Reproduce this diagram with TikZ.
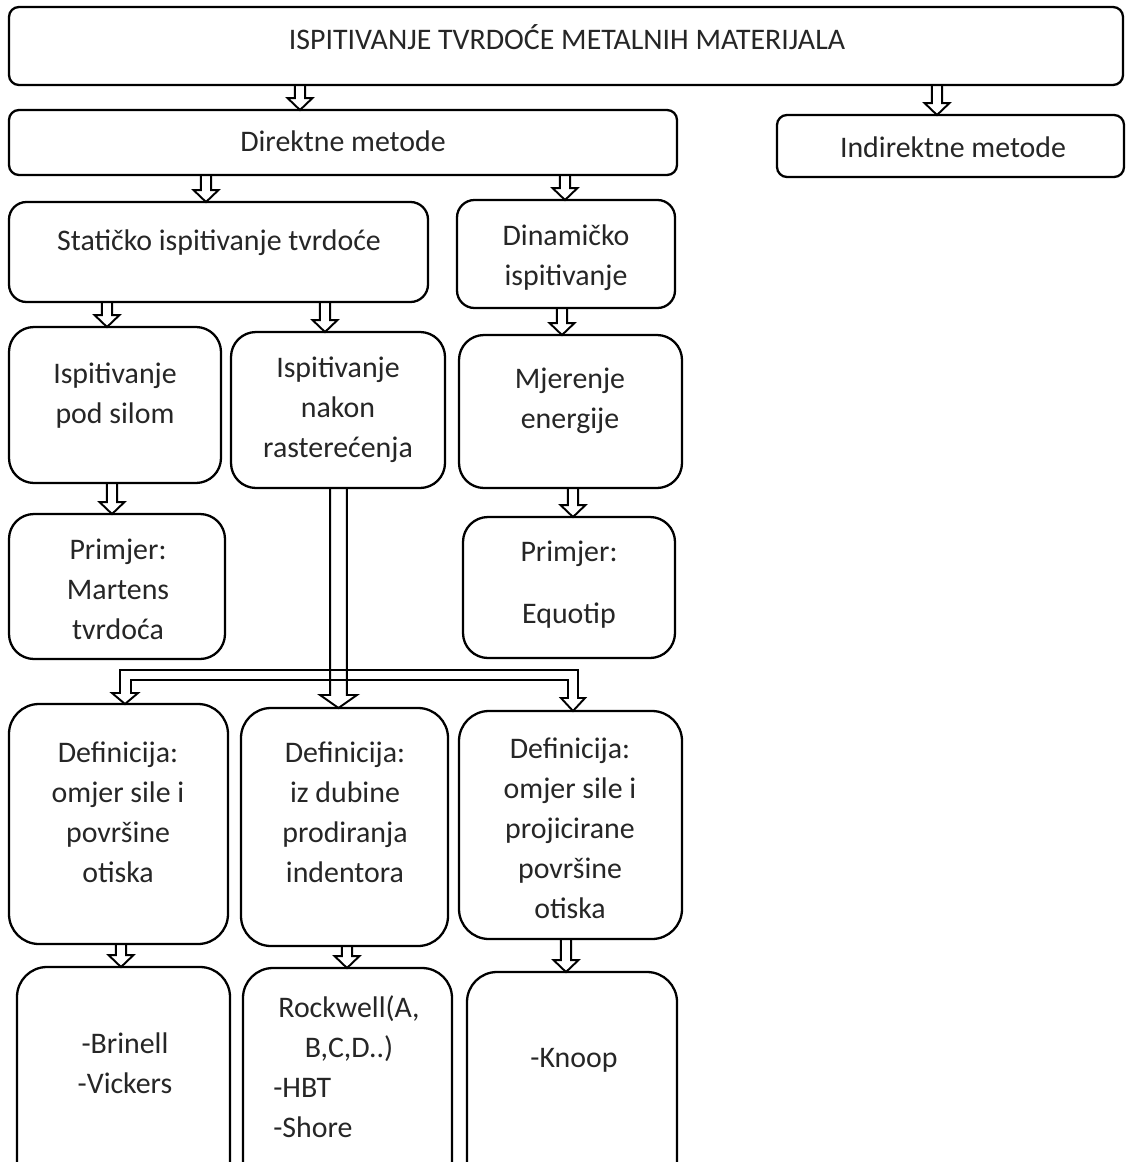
\documentclass[tikz,border=0pt]{standalone}
\usepackage{fontspec}
\setmainfont{Carlito}
\usetikzlibrary{calc,fit}
\definecolor{txt}{RGB}{38,38,38}
\tikzset{
  box/.style={draw=black, line width=1.3pt, inner sep=0pt, outer sep=0pt},
  lbl/.style={text=txt, inner sep=0pt, align=center, font=\fontsize{17}{22.7}\selectfont},
  arr/.style={draw=black, line width=1.1pt, line join=miter},
}
% hollow arrow: #1 = x position, #2 = source node, #3 = target node
\newcommand\harr[3]{%
  \draw[arr] let \p1=(#1,0), \p2=(#2.south), \p3=(#3.north) in
    (\x1-2.9pt,\y2) -- (\x1-2.9pt,\y3+6.8pt) -- (\x1-7.1pt,\y3+6.8pt) -- (\x1,\y3)
    -- (\x1+7.1pt,\y3+6.8pt) -- (\x1+2.9pt,\y3+6.8pt) -- (\x1+2.9pt,\y2);}
\begin{document}
\begin{tikzpicture}[x=0.02cm, y=-0.02cm]
\clip (0,0) rectangle (1125,1162);
\fill[white] (0,0) rectangle (1125,1162);

% boxes
\node[box, rounded corners=0.2cm, fit={(9,7) (1123,85)}] (top) {};
\node[box, rounded corners=0.2cm, fit={(9,110) (677,175)}] (dir) {};
\node[box, rounded corners=0.2cm, fit={(777,115) (1124,177)}] (ind) {};
\node[box, rounded corners=0.35cm, fit={(9,202) (428,302)}] (stat) {};
\node[box, rounded corners=0.35cm, fit={(457,200) (675,308)}] (din) {};
\node[box, rounded corners=0.5cm, fit={(9,327) (221,483)}] (pod) {};
\node[box, rounded corners=0.5cm, fit={(231,332) (445,488)}] (nak) {};
\node[box, rounded corners=0.5cm, fit={(459,335) (682,488)}] (mjer) {};
\node[box, rounded corners=0.5cm, fit={(9,514) (225,659)}] (mart) {};
\node[box, rounded corners=0.5cm, fit={(463,517) (675,658)}] (equo) {};
\node[box, rounded corners=0.6cm, fit={(9,704) (228,944)}] (def1) {};
\node[box, rounded corners=0.6cm, fit={(241,708) (448,946)}] (def2) {};
\node[box, rounded corners=0.6cm, fit={(459,711) (682,939)}] (def3) {};
\node[box, rounded corners=0.6cm, fit={(17,967) (230,1200)}] (brin) {};
\node[box, rounded corners=0.6cm, fit={(243,968) (452,1200)}] (rock) {};
\node[box, rounded corners=0.6cm, fit={(467,972) (677,1200)}] (knoop) {};

% texts (anchor=base is the baseline of the last line)
\node[lbl, anchor=base] (top-t) at (567,50) {ISPITIVANJE TVRDOĆE METALNIH MATERIJALA};
\node[lbl, anchor=base] (dir-t) at (343,152) {Direktne metode};
\node[lbl, anchor=base] (ind-t) at (953,158) {Indirektne metode};
\node[lbl, anchor=base] (stat-t) at (219,250) {Statičko ispitivanje tvrdoće};
\node[lbl, anchor=base] (din-t) at (566,285) {Dinamičko\\ispitivanje};
\node[lbl, anchor=base] (pod-t) at (115,423) {Ispitivanje\\pod silom};
\node[lbl, anchor=base] (nak-t) at (338,457) {Ispitivanje\\nakon\\rasterećenja};
\node[lbl, anchor=base] (mjer-t) at (570,428) {Mjerenje\\energije};
\node[lbl, anchor=base] (mart-t) at (118,639) {Primjer:\\Martens\\tvrdoća};
\node[lbl, anchor=base] (equo-t) at (569,623) {Primjer:\\[12.4pt]Equotip};
\node[lbl, anchor=base] (def1-t) at (118,882) {Definicija:\\omjer sile i\\površine\\otiska};
\node[lbl, anchor=base] (def2-t) at (345,882) {Definicija:\\iz dubine\\prodiranja\\indentora};
\node[lbl, anchor=base] (def3-t) at (570,918) {Definicija:\\omjer sile i\\projicirane\\površine\\otiska};
\node[lbl, anchor=base] (brin-t) at (125,1093) {-Brinell\\-Vickers};
\node[lbl, anchor=base] (rock-t) at (349,1057) {Rockwell(A,\\B,C,D..)};
\node[lbl, anchor=base west, align=left] (rock-t2) at (273,1137) {-HBT\\-Shore};
\node[lbl, anchor=base] (knoop-t) at (574,1067) {-Knoop};

% small hollow arrows
\harr{300}{top}{dir}
\harr{937}{top}{ind}
\harr{206}{dir}{stat}
\harr{565}{dir}{din}
\harr{107}{stat}{pod}
\harr{325}{stat}{nak}
\harr{112}{pod}{mart}
\harr{562}{din}{mjer}
\harr{573}{mjer}{equo}
\harr{121}{def1}{brin}
\harr{347}{def2}{rock}
\harr{566}{def3}{knoop}

% big hollow arrow from nak to def2
\draw[arr] let \p1=(338.5,0), \p2=(nak.south), \p3=(def2.north) in
  (\x1-4.8pt,\y2) -- (\x1-4.8pt,\y3+7.4pt) -- (\x1-10.5pt,\y3+7.4pt) -- (\x1,\y3)
  -- (\x1+10.5pt,\y3+7.4pt) -- (\x1+4.8pt,\y3+7.4pt) -- (\x1+4.8pt,\y2);
% hollow branch to def1 and def3
\draw[arr] (120,670) -- (578,670) -- (578,698) -- (585,698) -- (573,0 |- def3.north)
  -- (561,698) -- (568,698) -- (568,680) -- (131,680) -- (131,693) -- (138,693)
  -- (125,0 |- def1.north) -- (112,693) -- (120,693) -- cycle;
\end{tikzpicture}
\end{document}
